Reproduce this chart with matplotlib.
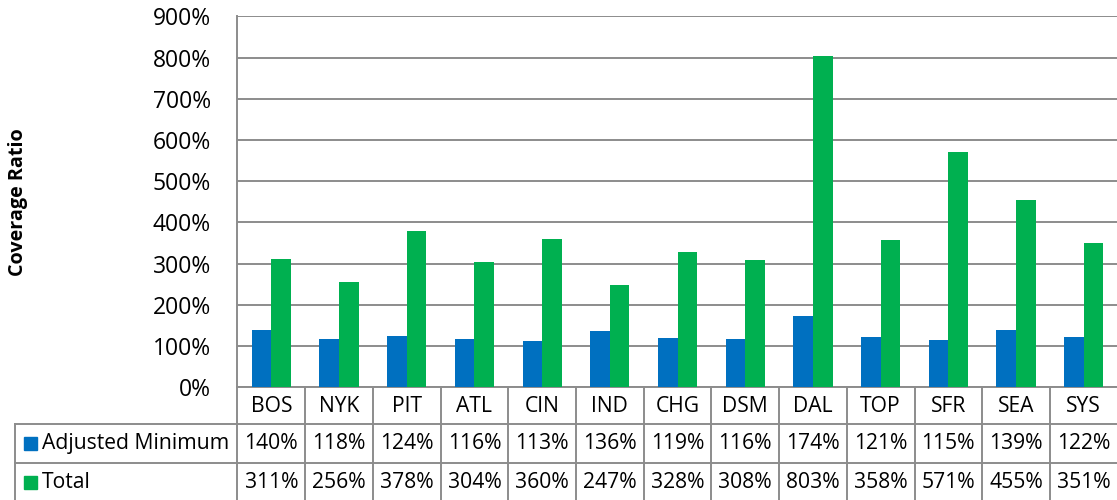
import numpy as np
import matplotlib.pyplot as plt
from matplotlib.transforms import blended_transform_factory
from matplotlib.patches import Rectangle

# Data
categories = ['BOS', 'NYK', 'PIT', 'ATL', 'CIN', 'IND', 'CHG', 'DSM', 'DAL', 'TOP', 'SFR', 'SEA', 'SYS']
adjusted_min = [140, 118, 124, 116, 113, 136, 119, 116, 174, 121, 115, 139, 122]
total = [311, 256, 378, 304, 360, 247, 328, 308, 803, 358, 571, 455, 351]
y_ticks = [0, 100, 200, 300, 400, 500, 600, 700, 800, 900]

blue = '#0070C0'
green = '#00B050'
grid_col = '#8c8c8c'

plt.rcParams['font.family'] = ['Open Sans', 'DejaVu Sans']

W, H = 1117, 500
fig = plt.figure(figsize=(W / 100, H / 100), dpi=100)

left_px, right_px = 237.5, 1117.6
top_px, bottom_px = 16.4, 387.2
ax = fig.add_axes([left_px / W, 1 - bottom_px / H,
                   (right_px - left_px) / W, (bottom_px - top_px) / H])

x = np.arange(len(categories))
bw = 0.29
ax.bar(x - bw / 2, adjusted_min, bw, color=blue, zorder=3)
ax.bar(x + bw / 2, total, bw, color=green, zorder=3)

ax.set_xlim(-0.5, len(categories) - 0.5)
ax.set_ylim(0, 900)
ax.set_yticks(y_ticks)
ax.set_yticklabels([f'{v}%' for v in y_ticks], fontsize=16.5)
ax.tick_params(axis='y', length=0, pad=19)
ax.set_xticks([])
ax.grid(axis='y', color=grid_col, lw=1.4, zorder=0)
for s in ['top', 'right']:
    ax.spines[s].set_visible(False)
for s in ['left', 'bottom']:
    ax.spines[s].set_color(grid_col)
    ax.spines[s].set_linewidth(1.4)

fig.text(18 / W, 1 - 202 / H, 'Coverage Ratio', rotation=90, fontsize=14.2,
         fontweight='bold', ha='center', va='center')

# data table below the axis
tr = blended_transform_factory(ax.transData, fig.transFigure)
ftr = fig.transFigure

def fy(py):
    return 1 - py / H

row_lines = [387.2, 424, 463, 502]
edges = np.arange(len(categories) + 1) - 0.5
for e in edges:
    ax.plot([e, e], [fy(row_lines[0]), fy(row_lines[-1])], transform=tr,
            color=grid_col, lw=1.4, clip_on=False)
for yl in row_lines[1:]:
    fig.add_artist(plt.Line2D([15 / W, 1.0], [fy(yl), fy(yl)], color=grid_col, lw=1.4))
fig.add_artist(plt.Line2D([15 / W, 15 / W], [fy(row_lines[1]), fy(row_lines[-1])],
                          color=grid_col, lw=1.4))

fs = 15.2
for i, c in enumerate(categories):
    ax.text(i, fy(406), c, transform=tr, ha='center', va='center', fontsize=fs)
    ax.text(i, fy(443.5), f'{adjusted_min[i]}%', transform=tr, ha='center',
            va='center', fontsize=fs)
    ax.text(i, fy(482.5), f'{total[i]}%', transform=tr, ha='center',
            va='center', fontsize=fs)

for label, col, yc in [('Adjusted Minimum', blue, 443.5), ('Total', green, 482.5)]:
    fig.add_artist(Rectangle((24 / W, fy(yc + 6.5)), 13 / W, 13 / H,
                             transform=ftr, color=col))
    fig.text(42 / W, fy(yc), label, ha='left', va='center', fontsize=fs)

fig.savefig('out.png', dpi=100)
